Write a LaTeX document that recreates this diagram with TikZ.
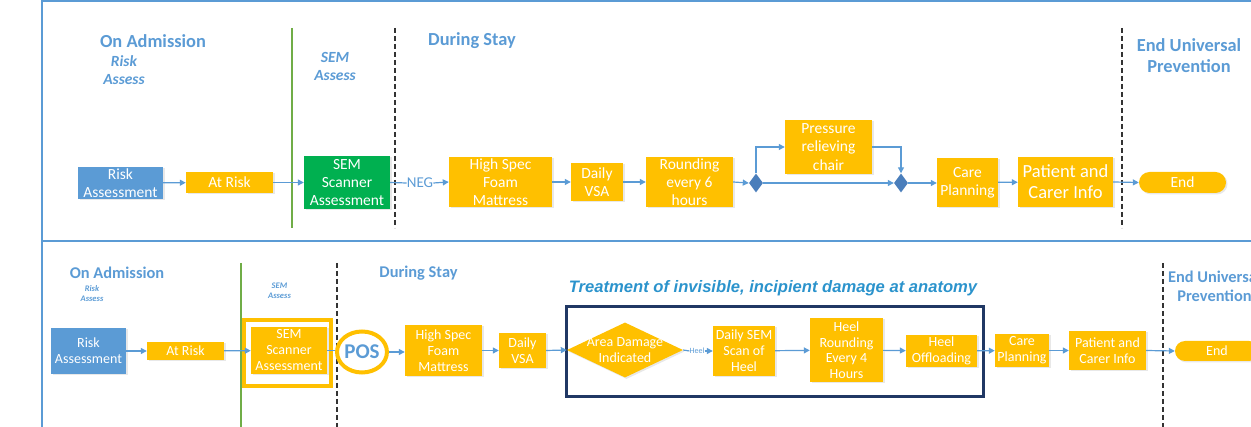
\documentclass[tikz,border=0pt]{standalone}
\usepackage{fontspec}
\setmainfont{Carlito}
\newfontfamily\arialf{Liberation Sans}
\usetikzlibrary{arrows.meta,shapes.geometric,shadows}
\definecolor{lblue}{HTML}{5B9BD5}
\definecolor{boxblue}{HTML}{5B9BD5}
\definecolor{amber}{HTML}{FFC000}
\definecolor{sgreen}{HTML}{00B050}
\definecolor{lgreen}{HTML}{70AD47}
\definecolor{dfill}{HTML}{4A7EBB}
\definecolor{navy}{HTML}{203864}
\definecolor{ttl}{HTML}{2B93CC}
\tikzset{
  box/.style={inner sep=0pt, align=center, text=white, font=\fontsize{15.5}{18.3}\selectfont},
  shad/.style={drop shadow={opacity=0.18, shadow xshift=1.5pt, shadow yshift=-1.5pt}},
  obox/.style={box, fill=amber, shad},
  bbox/.style={box, fill=boxblue, shad},
  gbox/.style={box, fill=sgreen, shad},
  sbox/.style={font=\fontsize{14}{16}\selectfont},
  arr/.style={draw=lblue, line width=1.2pt, -{Triangle[length=6pt,width=6pt]}},
  ln/.style={draw=lblue, line width=1.2pt},
  lab/.style={text=lblue, font=\bfseries\fontsize{18.4}{21}\selectfont, inner sep=0pt},
  slab/.style={text=lblue, font=\bfseries\itshape\fontsize{15.5}{18}\selectfont, inner sep=0pt},
  labB/.style={text=lblue, font=\bfseries\fontsize{16.4}{19}\selectfont, inner sep=0pt},
  slabB/.style={text=lblue, font=\bfseries\itshape\fontsize{8.5}{10}\selectfont, inner sep=0pt},
  dashln/.style={draw=black!80, line width=1.3pt, dash pattern=on 5pt off 3pt},
  grnln/.style={draw=lgreen, line width=1.3pt},
  dmd/.style={diamond, fill=dfill, inner sep=0pt, minimum width=14pt, minimum height=19pt},
  txt/.style={inner sep=0pt}
}
\begin{document}
\begin{tikzpicture}[x=1pt,y=-1pt]
\useasboundingbox (0,0) rectangle (1251,427);
\clip (0,0) rectangle (1251,427);
% frame
\draw[lblue, line width=1.8pt] (42,430) -- (42,1) -- (1255,1);
\draw[lblue, line width=1.8pt] (42,241) -- (1255,241);

% ===== TOP PANEL =====
\node[lab] (tadm) at (153,41) {On Admission};
\node[slab, align=center] (trisk) at (124,70) {Risk\\Assess};
\node[slab, align=center] (tsem) at (335,66) {SEM\\Assess};
\node[lab] (tdur) at (472,41) {During Stay};
\node[lab, align=center] (tend) at (1189,56) {End Universal\\Prevention};
\draw[grnln] (292,28) -- (292,228);
\draw[dashln] (395,28) -- (395,228);
\draw[dashln] (1122,28) -- (1122,228);

\node[bbox, minimum width=85pt, minimum height=32pt] (ra) at (120.5,183) {Risk\\Assessment};
\node[obox, minimum width=87pt, minimum height=21pt] (ar) at (229.5,182.5) {At Risk};
\node[gbox, minimum width=86pt, minimum height=53pt] (sem) at (347,182.5) {SEM\\Scanner\\Assessment};
\node[txt, text=lblue, font=\fontsize{15}{18}\selectfont] (neg) at (420,183) {NEG};
\node[obox, minimum width=103pt, minimum height=50pt] (hs) at (500.5,182) {High Spec\\Foam\\Mattress};
\node[obox, minimum width=52pt, minimum height=38pt] (vsa) at (597,182) {Daily\\VSA};
\node[obox, minimum width=87pt, minimum height=50pt] (rnd) at (689.5,182) {Rounding\\every 6\\hours};
\node[dmd] (d1) at (756,183) {};
\node[obox, minimum width=87pt, minimum height=54pt] (pr) at (828.5,147) {Pressure\\relieving\\chair};
\node[dmd] (d2) at (901,183) {};
\node[obox, minimum width=61pt, minimum height=49pt] (care) at (967.5,182.5) {Care\\Planning};
\node[obox, minimum width=95pt, minimum height=50pt, font=\fontsize{18.5}{21}\selectfont] (pat) at (1065.5,182) {Patient and\\Carer Info};
\node[obox, minimum width=87pt, minimum height=21pt, rounded corners=10.5pt] (end) at (1182.5,182.5) {End};

\draw[arr] (ra) -- (ar);
\draw[arr] (ar) -- (sem);
\draw[ln] (sem.east) -- (neg.west);
\draw[arr] (neg.east) -- (hs.west);
\draw[arr] (hs) -- (vsa);
\draw[arr] (vsa) -- (rnd);
\draw[arr] (rnd.east) -- (d1.west);
\draw[arr] (d1.north) |- (pr.west);
\draw[arr] (pr.east) -| (d2.north);
\draw[arr] (d1.east) -- (d2.west);
\draw[arr] (d2.east) -- (d2.east -| care.west);
\draw[arr] (care) -- (pat);
\draw[arr] (pat.east) -- (end.west);

% ===== BOTTOM PANEL =====
\node[labB] (badm) at (117,273) {On Admission};
\node[slabB, align=center] (brisk) at (92,293.5) {Risk\\Assess};
\node[slabB, align=center] (bsem) at (279.5,290.5) {SEM\\Assess};
\node[labB] (bdur) at (418.5,273) {During Stay};
\node[labB, align=center] (bend) at (1214.5,286.5) {End Universal\\Prevention};
\draw[grnln] (241,263) -- (241,430);
\draw[dashln] (337,263) -- (337,430);
\draw[dashln] (1163,263) -- (1163,430);

\node[text=ttl, font=\arialf\bfseries\itshape\fontsize{16.6}{19}\selectfont, inner sep=0pt] (title) at (773,288) {Treatment of invisible, incipient damage at anatomy};
\draw[navy, line width=3pt] (566.5,306.5) rectangle (983.5,396.5);

\node[bbox, sbox, minimum width=75pt, minimum height=46pt] (rb) at (88.5,351) {Risk\\Assessment};
\node[obox, sbox, minimum width=77pt, minimum height=18pt] (arb) at (185.5,351) {At Risk};
\draw[amber, line width=4pt] (244,320) rectangle (331,386);
\node[obox, sbox, minimum width=76pt, minimum height=47pt] (semb) at (289,350.5) {SEM\\Scanner\\Assessment};
\node[ellipse, draw=amber, line width=4pt, minimum width=46pt, minimum height=41pt, inner sep=0pt, text=lblue, font=\bfseries\fontsize{21}{24}\selectfont] (pos) at (362,352) {POS};
\node[obox, sbox, minimum width=77pt, minimum height=51pt] (hsb) at (443.5,350.5) {High Spec\\Foam\\Mattress};
\node[obox, sbox, minimum width=47pt, minimum height=35pt] (vsab) at (522.5,350.5) {Daily\\VSA};
\node[diamond, fill=amber, shad, inner sep=0pt, minimum width=116pt, minimum height=55pt] (ad) at (625,350) {};
\node[box, sbox] (adt) at (625,350) {Area Damage\\Indicated};
\node[txt, text=lblue, font=\fontsize{8}{9}\selectfont] (heel) at (697,351) {Heel};
\node[obox, sbox, minimum width=62pt, minimum height=50pt] (dsem) at (744,351) {Daily SEM\\Scan of\\Heel};
\node[obox, sbox, minimum width=73pt, minimum height=64pt, font=\fontsize{14}{15.5}\selectfont] (hr) at (846.5,350) {Heel\\Rounding\\Every 4\\Hours};
\node[obox, sbox, minimum width=71pt, minimum height=32pt] (ho) at (941.5,351) {Heel\\Offloading};
\node[obox, sbox, minimum width=54pt, minimum height=33pt] (careb) at (1022,350.5) {Care\\Planning};
\node[obox, sbox, minimum width=77pt, minimum height=39pt] (patb) at (1107.5,350.5) {Patient and\\Carer Info};
\node[obox, sbox, minimum width=84pt, minimum height=20pt, rounded corners=10pt] (endb) at (1217,351) {End};

\draw[arr] (rb) -- (arb);
\draw[arr] (arb) -- (semb);
\draw[ln] (semb.east) -- (pos.west |- semb.east);
\draw[arr] (pos.east) -- (pos.east -| hsb.west);
\draw[arr] (hsb) -- (vsab);
\draw[arr] (vsab.east) -- (ad.west);
\draw[ln] (ad.east) -- (heel.west);
\draw[arr] (heel.east) -- (dsem.west);
\draw[arr] (dsem) -- (hr);
\draw[arr] (hr) -- (ho);
\draw[arr] (ho) -- (careb);
\draw[arr] (careb) -- (patb);
\draw[arr] (patb.east) -- (endb.west);
\end{tikzpicture}
\end{document}
